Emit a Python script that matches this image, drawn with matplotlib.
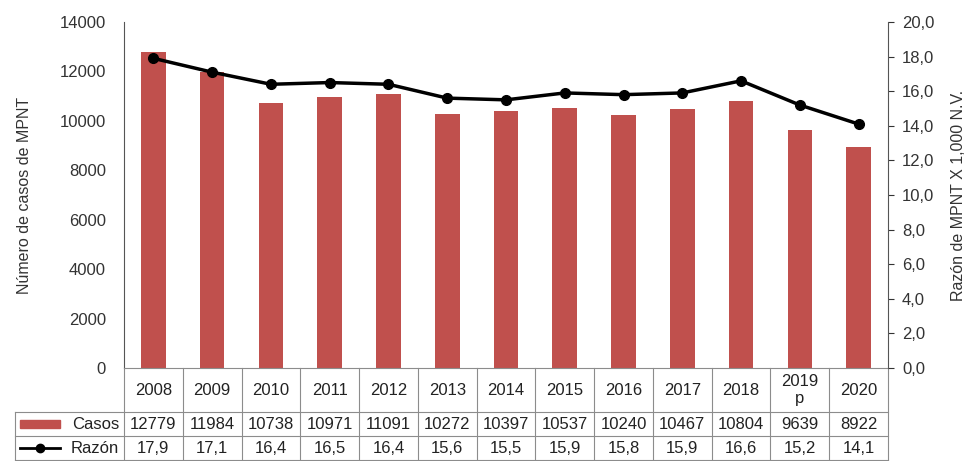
import matplotlib
matplotlib.use("Agg")
import matplotlib.pyplot as plt
from matplotlib.transforms import blended_transform_factory
from matplotlib.patches import Rectangle
from matplotlib.lines import Line2D

years = ['2008', '2009', '2010', '2011', '2012', '2013', '2014', '2015',
         '2016', '2017', '2018', '2019\np', '2020']
casos = [12779, 11984, 10738, 10971, 11091, 10272, 10397, 10537,
         10240, 10467, 10804, 9639, 8922]
razon = [17.9, 17.1, 16.4, 16.5, 16.4, 15.6, 15.5, 15.9,
         15.8, 15.9, 16.6, 15.2, 14.1]

plt.rcParams['font.family'] = ['Liberation Sans', 'DejaVu Sans']
fs = 12

bar_color = '#C0504D'
grid_color = '#8c8c8c'
txt = '#222222'

W, H = 974, 461
fig = plt.figure(figsize=(W / 100, H / 100), dpi=100)
x0, x1, y0, y1 = 124, 888, 22, 368
ax = fig.add_axes([x0 / W, 1 - y1 / H, (x1 - x0) / W, (y1 - y0) / H])

x = list(range(len(years)))
ax.bar(x, casos, width=0.42, color=bar_color, zorder=2)
ax.set_xlim(-0.5, len(years) - 0.5)
ax.set_ylim(0, 14000)
ax.set_yticks(range(0, 14001, 2000))
ax.set_xticks([])
ax.tick_params(axis='y', length=0, pad=13, labelsize=fs, colors='#333333')
ax.set_ylabel('Número de casos de MPNT', fontsize=11.5, color='#333333', labelpad=20)
for s in ['top', 'right']:
    ax.spines[s].set_visible(False)
ax.spines['left'].set_color('#555555')
ax.spines['bottom'].set_color(grid_color)

ax2 = ax.twinx()
ax2.plot(x, razon, color='black', lw=2.5, marker='o', ms=7, zorder=3)
ax2.set_ylim(0, 20)
ax2.set_yticks(range(0, 21, 2))
ax2.set_yticklabels([f'{v:.1f}'.replace('.', ',') for v in range(0, 21, 2)])
ax2.tick_params(axis='y', length=4, pad=6, labelsize=fs, colors='#333333')
ax2.set_ylabel('Razón de MPNT X 1,000 N.V.', fontsize=11.5, color='#333333', labelpad=12)
for s in ['top', 'left', 'bottom']:
    ax2.spines[s].set_visible(False)
ax2.spines['right'].set_color('#555555')

# data table under the axes
ph = y1 - y0
pw = x1 - x0
def ay(py):
    return (y1 - py) / ph
def axx(px):
    return (px - x0) / pw

tr = blended_transform_factory(ax.transData, ax.transAxes)
ta = ax.transAxes
hdr_b, cas_b, raz_b = ay(412), ay(436), ay(460)
lx = axx(15)
lw = 0.8

for i in range(len(years) + 1):
    ax.add_line(Line2D([i - 0.5, i - 0.5], [0, raz_b], transform=tr,
                       color=grid_color, lw=lw, clip_on=False))
for yb in [hdr_b, cas_b, raz_b]:
    ax.add_line(Line2D([lx, 1], [yb, yb], transform=ta,
                       color=grid_color, lw=lw, clip_on=False))
ax.add_line(Line2D([lx, lx], [hdr_b, raz_b], transform=ta,
                   color=grid_color, lw=lw, clip_on=False))

for i, yr in enumerate(years):
    ax.text(i, hdr_b / 2, yr, transform=tr, ha='center', va='center',
            fontsize=fs, color=txt, linespacing=1.15)
    ax.text(i, (hdr_b + cas_b) / 2, str(casos[i]), transform=tr,
            ha='center', va='center', fontsize=fs, color=txt)
    ax.text(i, (cas_b + raz_b) / 2, f'{razon[i]:.1f}'.replace('.', ','),
            transform=tr, ha='center', va='center', fontsize=fs, color=txt)

# row labels with legend keys
ax.add_patch(Rectangle((axx(20), ay(428)), axx(60) - axx(20), ay(420) - ay(428),
                       transform=ta, color=bar_color, clip_on=False))
ax.text(axx(119), (hdr_b + cas_b) / 2, 'Casos', transform=ta, ha='right',
        va='center', fontsize=fs, color=txt)
ax.add_line(Line2D([axx(20), axx(60)], [(cas_b + raz_b) / 2] * 2, transform=ta,
                   color='black', lw=2, clip_on=False))
ax.add_line(Line2D([axx(40)], [(cas_b + raz_b) / 2], transform=ta, marker='o',
                   ms=6, color='black', clip_on=False))
ax.text(axx(119), (cas_b + raz_b) / 2, 'Razón', transform=ta, ha='right',
        va='center', fontsize=fs, color=txt)

fig.savefig('out.png', dpi=100)
